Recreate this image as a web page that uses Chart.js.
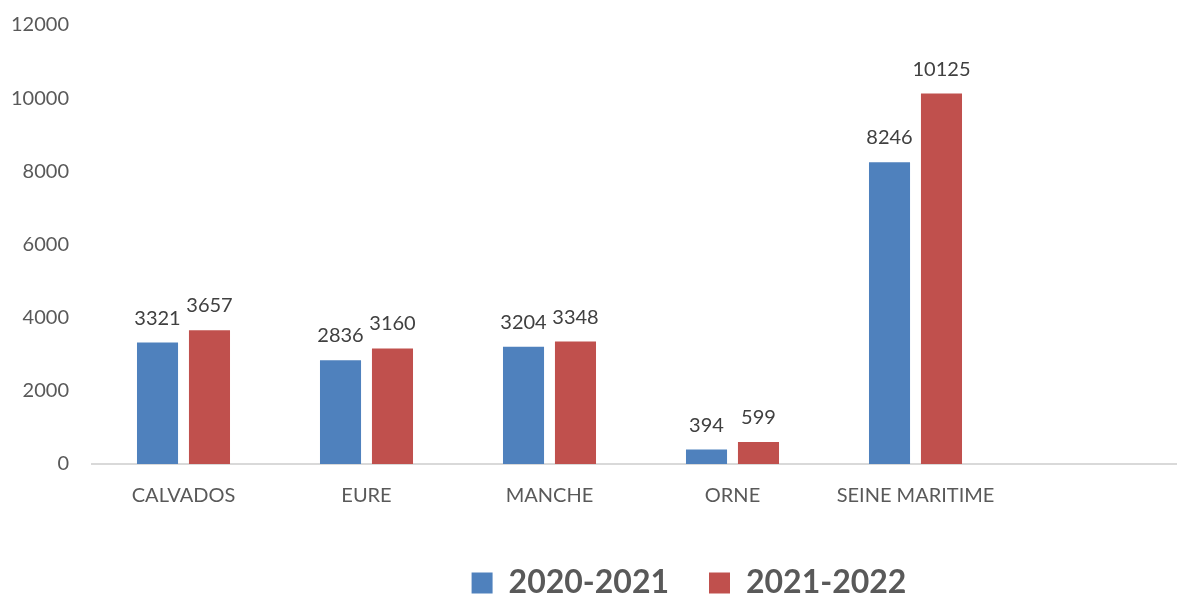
<!DOCTYPE html>
<html>
<head>
<meta charset="utf-8">
<script src="https://cdn.jsdelivr.net/npm/chart.js@4"></script>
<style>
  html, body { margin: 0; padding: 0; background: #fff; overflow: hidden; }
  #wrap { position: relative; width: 1192px; height: 595px; }
</style>
</head>
<body>
<div id="wrap"><canvas id="chart"></canvas></div>
<script>
// données du graphique
const departements = ['CALVADOS', 'EURE', 'MANCHE', 'ORNE', 'SEINE MARITIME', ''];
const serie2020 = [3321, 2836, 3204, 394, 8246, null];
const serie2021 = [3657, 3160, 3348, 599, 10125, null];
const seriesLabels = ['2020-2021', '2021-2022'];
const yTicks = [0, 2000, 4000, 6000, 8000, 10000, 12000];

const FONT = 'Lato, "Open Sans", sans-serif';

// étiquettes de valeurs au-dessus des barres
const valueLabels = {
    id: 'valueLabels',
    afterDatasetsDraw(chart) {
        const ctx = chart.ctx;
        ctx.save();
        ctx.font = '20px ' + FONT;
        ctx.fillStyle = '#404040';
        ctx.textAlign = 'center';
        ctx.textBaseline = 'alphabetic';
        chart.data.datasets.forEach((ds, i) => {
            chart.getDatasetMeta(i).data.forEach((bar, j) => {
                const v = ds.data[j];
                if (v === null || v === undefined) return;
                ctx.fillText(String(v), bar.x, bar.y - 18);
            });
        });
        ctx.restore();
    }
};

// décale la légende comme dans l'original
const legendShift = {
    id: 'legendShift',
    afterLayout(chart) {
        const lg = chart.legend;
        if (!lg) return;
        lg.left += 94; lg.right += 94;
        lg.top += 3; lg.bottom += 3;
    }
};

const ctx = document.getElementById('chart').getContext('2d');
new Chart(ctx, {
    type: 'bar',
    data: {
        labels: departements,
        datasets: [
            { label: seriesLabels[0], data: serie2020, backgroundColor: '#4f81bd',
              categoryPercentage: 0.568, barPercentage: 0.79 },
            { label: seriesLabels[1], data: serie2021, backgroundColor: '#c0504d',
              categoryPercentage: 0.568, barPercentage: 0.79 }
        ]
    },
    options: {
        responsive: true,
        maintainAspectRatio: false,
        animation: false,
        layout: { padding: { top: 25, right: 2, left: 0, bottom: -11 } },
        scales: {
            x: {
                grid: { display: false, drawTicks: false },
                border: { display: true, color: '#d9d9d9', width: 2 },
                ticks: { color: '#595959', font: { family: FONT, size: 20 }, padding: 20, maxRotation: 0, autoSkip: false },
                afterFit: scale => { scale.height = 60; }
            },
            y: {
                min: 0,
                max: 12000,
                afterBuildTicks: scale => { scale.ticks = yTicks.map(v => ({ value: v })); },
                grid: { display: false, drawTicks: false },
                border: { display: false },
                ticks: { color: '#595959', font: { family: FONT, size: 20 }, padding: 23,
                         callback: v => String(v) },
                afterFit: scale => {
                    scale.width = 92;
                    scale.paddingTop = 0;
                    scale.paddingBottom = 0;
                }
            }
        },
        plugins: {
            legend: {
                position: 'bottom',
                labels: {
                    boxWidth: 21,
                    boxHeight: 21,
                    padding: 40,
                    color: '#595959',
                    font: { family: FONT, size: 32, weight: 'bold' }
                }
            },
            tooltip: { enabled: false }
        }
    },
    plugins: [valueLabels, legendShift]
});
</script>
</body>
</html>
